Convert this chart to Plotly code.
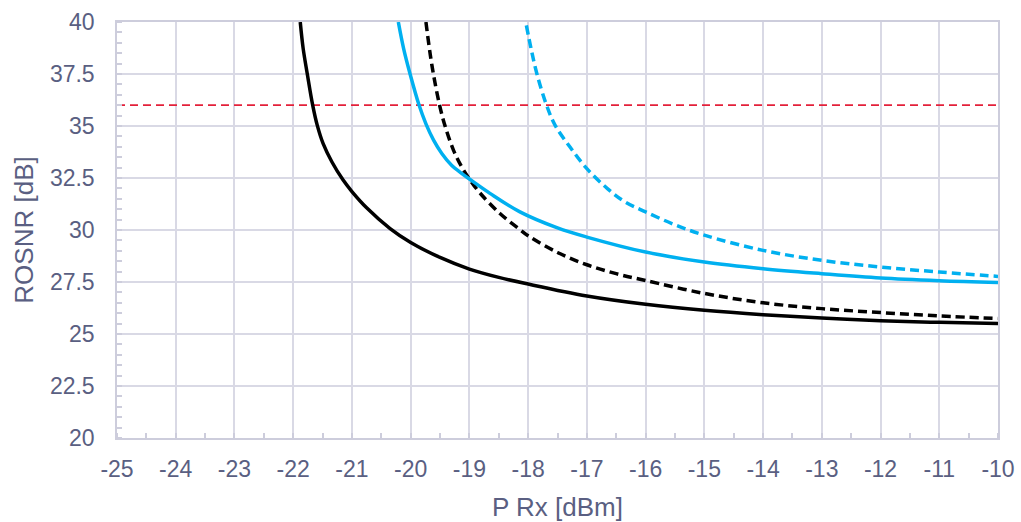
import plotly.graph_objects as go

# Data
bk_solid_x = [-21.88, -21.83, -21.76, -21.67, -21.59, -21.49, -21.34, -21.15, -21.0, -20.75, -20.35, -20.0, -19.5, -19.0, -18.5, -18.0, -17.0, -16.0, -15.0, -14.0, -13.0, -12.0, -11.0, -10.0]
bk_solid_y = [40.0, 38.72, 37.5, 36.03, 35.03, 34.15, 33.27, 32.4, 31.85, 31.07, 30.07, 29.4, 28.68, 28.12, 27.72, 27.4, 26.83, 26.43, 26.14, 25.93, 25.77, 25.64, 25.56, 25.5]

bk_dash_x = [-19.74, -19.64, -19.51, -19.41, -19.27, -19.13, -19.0, -18.82, -18.48, -18.14, -18.0, -17.5, -17.0, -16.5, -16.0, -15.0, -14.0, -13.0, -12.0, -11.0, -10.0]
bk_dash_y = [40.0, 37.95, 36.03, 34.96, 33.83, 33.03, 32.45, 31.78, 30.79, 30.02, 29.72, 28.92, 28.33, 27.9, 27.57, 26.95, 26.5, 26.22, 26.03, 25.87, 25.74]

bl_solid_x = [-20.21, -20.12, -20.01, -19.86, -19.74, -19.61, -19.47, -19.3, -19.15, -19.0, -18.65, -18.14, -17.5, -17.0, -16.0, -15.0, -14.0, -13.0, -12.0, -11.0, -10.0]
bl_solid_y = [40.0, 38.72, 37.5, 36.03, 35.1, 34.32, 33.68, 33.1, 32.76, 32.45, 31.76, 30.87, 30.1, 29.66, 28.94, 28.46, 28.14, 27.9, 27.69, 27.56, 27.47]

bl_dash_x = [-18.03, -17.95, -17.85, -17.69, -17.54, -17.29, -17.0, -16.65, -16.35, -16.0, -15.5, -15.0, -14.0, -13.0, -12.0, -11.0, -10.0]
bl_dash_y = [39.84, 38.72, 37.5, 36.03, 35.03, 34.0, 32.95, 31.99, 31.35, 30.87, 30.25, 29.75, 29.02, 28.54, 28.22, 27.98, 27.77]

threshold_x = [-25, -10]
threshold_y = [36, 36]

x_ticks = list(range(-25, -9))
x_tick_labels = [str(v) for v in x_ticks]  # plain hyphen minus
y_ticks = [20, 22.5, 25, 27.5, 30, 32.5, 35, 37.5, 40]
y_tick_labels = ["20", "22.5", "25", "27.5", "30", "32.5", "35", "37.5", "40"]

BLUE = "#00B0F0"
BLACK = "#000000"
RED = "#E3203A"
GRID = "#D9D9E5"
AXIS = "#CDCDDC"
TEXT = "#5A5F82"

fig = go.Figure()
fig.add_trace(go.Scatter(x=threshold_x, y=threshold_y, mode="lines",
                         line=dict(color=RED, width=1.8, dash="8px,5px")))
fig.add_trace(go.Scatter(x=bl_dash_x, y=bl_dash_y, mode="lines",
                         line=dict(color=BLUE, width=3.5, dash="9px,5px", shape="spline", smoothing=1.0)))
fig.add_trace(go.Scatter(x=bk_dash_x, y=bk_dash_y, mode="lines",
                         line=dict(color=BLACK, width=3.5, dash="9px,5px", shape="spline", smoothing=1.0)))
fig.add_trace(go.Scatter(x=bl_solid_x, y=bl_solid_y, mode="lines",
                         line=dict(color=BLUE, width=3.5, shape="spline", smoothing=1.0)))
fig.add_trace(go.Scatter(x=bk_solid_x, y=bk_solid_y, mode="lines",
                         line=dict(color=BLACK, width=3.5, shape="spline", smoothing=1.0)))

fig.update_layout(
    width=1021, height=522,
    margin=dict(l=117, r=23, t=22, b=84),
    paper_bgcolor="white", plot_bgcolor="white",
    showlegend=False,
    font=dict(family="Liberation Sans, Arial, sans-serif", color=TEXT, size=23),
)
fig.update_xaxes(
    range=[-25, -10], tickmode="array", tickvals=x_ticks, ticktext=x_tick_labels,
    automargin=False,
    showgrid=True, gridcolor=GRID, gridwidth=1.5,
    showline=True, linecolor=AXIS, linewidth=1.5, mirror=True,
    ticks="", zeroline=False, ticklabelstandoff=10,
    tickfont=dict(size=23, color=TEXT),
    title=dict(text="P Rx [dBm]", font=dict(size=26, color=TEXT), standoff=16),
    minor=dict(dtick=0.5, tick0=-25, ticks="inside", ticklen=5, tickcolor=AXIS, tickwidth=1.5, showgrid=False),
)
fig.update_yaxes(
    range=[20, 40], tickmode="array", tickvals=y_ticks, ticktext=y_tick_labels,
    automargin=False,
    showgrid=True, gridcolor=GRID, gridwidth=1.5,
    showline=True, linecolor=AXIS, linewidth=1.5, mirror=True,
    ticks="", zeroline=False, ticklabelstandoff=16,
    tickfont=dict(size=23, color=TEXT),
    title=dict(text="ROSNR [dB]", font=dict(size=26, color=TEXT), standoff=9),
    minor=dict(dtick=0.5, tick0=20, ticks="inside", ticklen=5, tickcolor=AXIS, tickwidth=1.5, showgrid=False),
)

fig.write_html(
    "out.html",
    config={"displayModeBar": False},
    post_script="document.body.style.margin='0';document.body.style.padding='0';document.body.style.overflow='hidden';",
)
